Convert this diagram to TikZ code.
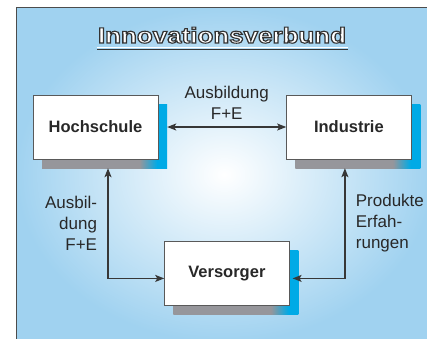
\documentclass[tikz,border=0pt]{standalone}
\usepackage{fontspec}
\setmainfont{Liberation Sans}
\usepackage{xcolor}
\usetikzlibrary{arrows.meta, positioning, shadows}
\definecolor{bgblue}{RGB}{160,210,240}
\definecolor{shadowblue}{RGB}{0,170,230}
\definecolor{shadowgray}{RGB}{150,150,155}
\definecolor{linkgray}{RGB}{55,55,55}
\definecolor{textgray}{RGB}{40,40,40}
\pgfdeclarehorizontalshading{boxshadow}{100bp}{color(0bp)=(shadowgray); color(64bp)=(shadowgray); color(71bp)=(shadowblue); color(100bp)=(shadowblue)}
\newcommand{\outlined}[1]{\special{pdf:literal direct 2 Tr 1.1 w 0.2 0.2 0.2 RG}#1\special{pdf:literal direct 0 Tr}}

\begin{document}
\begin{tikzpicture}[
  x=1pt, y=-1pt,
  node distance=82pt and 128pt,
  box/.style={rectangle, draw=gray!70!black, fill=white, thin,
              minimum width=125pt, minimum height=64pt,
              font=\fontsize{16.5}{20}\selectfont\bfseries, text=textgray,
              general shadow={shade, shading=boxshadow, shadow xshift=9pt, shadow yshift=-9pt}},
  lbltext/.style={font=\fontsize{17}{21}\selectfont, text=textgray},
  titletext/.style={font=\fontsize{22}{26}\selectfont\bfseries, xscale=1.18,
                    transform shape, anchor=base, inner sep=0pt},
  link/.style={{Stealth[length=9pt,width=7pt,inset=2pt]}-{Stealth[length=9pt,width=7pt,inset=2pt]},
               line width=1.3pt, linkgray}
]
  \useasboundingbox (0,0) rectangle (427,338);
  \fill[white] (0,0) rectangle (427,338);
  \shade[inner color=white, outer color=bgblue] (16,7) rectangle (432,342);
  \draw[gray!60!black, line width=0.9pt] (16,342) -- (16,7) -- (432,7);

  \node[titletext, text=white] (title) at (222,43) {\outlined{Innovationsverbund}};
  \draw[white, line width=1.2pt] (97,47.8) -- (348,47.8);
  \draw[gray!40!black, line width=1.2pt] (97,49.6) -- (348,49.6);

  \node[box] (hs) at (95.5,127) {Hochschule};
  \node[box, right=of hs] (ind) {Industrie};
  \node[box, below right=82pt and 6pt of hs] (vs) {Versorger};

  \draw[link] ([xshift=9pt]hs.east) -- node[lbltext, above=4pt, align=center]{Ausbildung\\F+E} (ind.west);
  \draw[link] ([xshift=12.5pt,yshift=-9pt]hs.south) |- node[lbltext, pos=0.25, left=7pt, align=right]{Ausbil-\\dung\\F+E} ([yshift=-5pt]vs.west);
  \draw[link] ([xshift=3pt,yshift=-5pt]vs.east) -| node[lbltext, pos=0.75, right=7pt, align=left]{Produkte\\Erfah-\\rungen} ([xshift=-4pt,yshift=-9pt]ind.south);
\end{tikzpicture}
\end{document}
